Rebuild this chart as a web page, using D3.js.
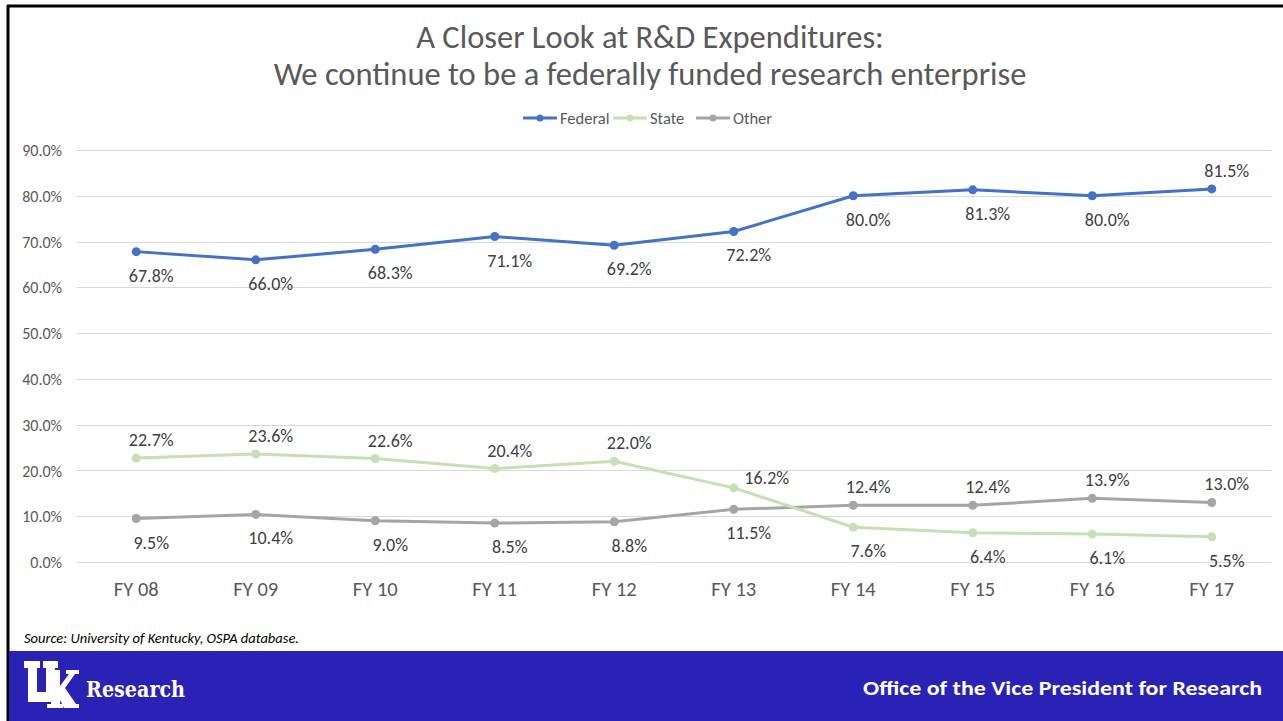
<!DOCTYPE html>
<html><head><meta charset="utf-8">
<script src="https://cdn.jsdelivr.net/npm/d3@7"></script>
<style>
body{margin:0;background:#fff;}
svg{display:block;}
</style></head>
<body>
<svg id="c" width="1283" height="721"></svg>
<script>
const categories = ["FY 08","FY 09","FY 10","FY 11","FY 12","FY 13","FY 14","FY 15","FY 16","FY 17"];
const federal = [67.8,66.0,68.3,71.1,69.2,72.2,80.0,81.3,80.0,81.5];
const state   = [22.7,23.6,22.6,20.4,22.0,16.2,7.6,6.4,6.1,5.5];
const other   = [9.5,10.4,9.0,8.5,8.8,11.5,12.4,12.4,13.9,13.0];
const yTicks  = [0,10,20,30,40,50,60,70,80,90];
const federalLabelPos = ["below","below","below","below","below","below","below","below","below","above"];
const stateLabelPos   = ["above","above","above","above","above","right","below","below","below","below"];
const otherLabelPos   = ["below","below","below","below","below","below","above","above","above","above"];

const titleLines = ["A Closer Look at R&D Expenditures:","We continue to be a federally funded research enterprise"];
const seriesNames = ["Federal","State","Other"];
const colors = ["#4472c4","#c5e0b4","#a5a5a5"];
const FONT = "Calibri, Carlito, Lato, 'Open Sans', sans-serif";

const svg = d3.select("#c");
const W = 1283, H = 721;

// slide border
svg.append("line").attr("x1",7).attr("x2",W).attr("y1",6).attr("y2",6).attr("stroke","#000").attr("stroke-width",3);
svg.append("line").attr("x1",8).attr("x2",8).attr("y1",5).attr("y2",H).attr("stroke","#000").attr("stroke-width",3);

// title
svg.selectAll("text.title").data(titleLines).join("text")
  .attr("class","title")
  .attr("x",650).attr("y",(d,i)=>48+i*37)
  .attr("text-anchor","middle")
  .attr("font-family",FONT).attr("font-weight",300).attr("font-size",32.5)
  .attr("fill","#595959").text(d=>d);

const x = d3.scaleBand().domain(categories).range([76.5,1271.5]);
const y = d3.scaleLinear().domain([0,90]).range([562,150]);
const cx = d => x(d)+x.bandwidth()/2;

// gridlines
svg.append("g").selectAll("line").data(yTicks).join("line")
  .attr("x1",76.5).attr("x2",1271.5)
  .attr("y1",d=>Math.round(y(d))+0.5).attr("y2",d=>Math.round(y(d))+0.5)
  .attr("stroke","#d9d9d9").attr("stroke-width",1);

// y axis labels
const yAxis = d3.axisLeft(y).tickValues(yTicks).tickFormat(d=>d.toFixed(1)+"%").tickSize(0).tickPadding(0);
const gy = svg.append("g").attr("transform","translate(62,0)").call(yAxis);
gy.select(".domain").remove();
gy.selectAll("text").attr("font-family",FONT).attr("font-size",16).attr("fill","#595959").attr("dy","0.35em");

// x axis labels
const xAxis = d3.axisBottom(x).tickSize(0).tickPadding(0);
const gx = svg.append("g").attr("transform","translate(0,581)").call(xAxis);
gx.select(".domain").remove();
gx.selectAll("text").attr("font-family",FONT).attr("font-size",20.5).attr("fill","#595959").attr("dy","0.71em");

const series = [
  {name:"Federal", values:federal, pos:federalLabelPos, color:colors[0]},
  {name:"State", values:state, pos:stateLabelPos, color:colors[1]},
  {name:"Other", values:other, pos:otherLabelPos, color:colors[2]}
];
const line = d3.line().x((d,i)=>cx(categories[i])).y(d=>y(d));

[series[2],series[1],series[0]].forEach(s=>{
  const g = svg.append("g");
  g.append("path").datum(s.values).attr("d",line).attr("fill","none")
    .attr("stroke",s.color).attr("stroke-width",3).attr("stroke-linejoin","round").attr("stroke-linecap","round");
  g.selectAll("circle").data(s.values).join("circle")
    .attr("cx",(d,i)=>cx(categories[i])).attr("cy",d=>y(d)).attr("r",4.5).attr("fill",s.color);
});
series.forEach(s=>{
  svg.append("g").selectAll("text").data(s.values).join("text")
    .attr("x",(d,i)=>cx(categories[i]) + (s.pos[i]==="right"?33:15))
    .attr("y",(d,i)=>y(d) + (s.pos[i]==="below"?30:(s.pos[i]==="above"?-12:-4)))
    .attr("text-anchor","middle")
    .attr("font-family",FONT).attr("font-size",18).attr("fill","#404040")
    .text(d=>d.toFixed(1)+"%");
});

// legend
const legendX = [523,613,696];
const lg = svg.append("g");
seriesNames.forEach((n,i)=>{
  const gx0 = legendX[i];
  lg.append("line").attr("x1",gx0).attr("x2",gx0+34).attr("y1",118).attr("y2",118).attr("stroke",colors[i]).attr("stroke-width",3);
  lg.append("circle").attr("cx",gx0+17).attr("cy",118).attr("r",3.5).attr("fill",colors[i]);
  lg.append("text").attr("x",gx0+37).attr("y",124).attr("font-family",FONT).attr("font-size",16.5).attr("fill","#595959").text(n);
});

// source
svg.append("text").attr("x",24).attr("y",643).attr("font-family",FONT).attr("font-style","italic").attr("font-size",14.5)
  .attr("fill","#000").text("Source: University of Kentucky, OSPA database.");

// footer
svg.append("rect").attr("x",9).attr("y",651).attr("width",W-9).attr("height",H-651).attr("fill","#2a22b5");
// UK logo mark (graphic)
const logo = svg.append("g").attr("fill","#fff");
logo.append("path").attr("d",
  "M24,661 H40 V668 H37 V692 H46 V668 H43 V661 H58 V668 H55 V702 H28 V668 H24 Z");
logo.append("path").attr("d",
  "M51,670 H60 V686 L69,674 H66 V670 H79 V674 H75 L65,688 L76,704 H79 V708 H64 L60,700 V704 H63 V708 H47 V704 H51 Z");
svg.append("text").attr("x",86).attr("y",697).attr("font-family","'DejaVu Serif', serif").attr("font-weight",700)
  .attr("font-size",22).attr("fill","#fff").attr("textLength",99).attr("lengthAdjust","spacingAndGlyphs").text("Research");
svg.append("text").attr("x",1262).attr("y",695).attr("text-anchor","end").attr("font-family",FONT).attr("font-weight",700)
  .attr("font-size",20).attr("fill","#fff").attr("textLength",399).attr("lengthAdjust","spacingAndGlyphs").text("Office of the Vice President for Research");
</script>
</body></html>
